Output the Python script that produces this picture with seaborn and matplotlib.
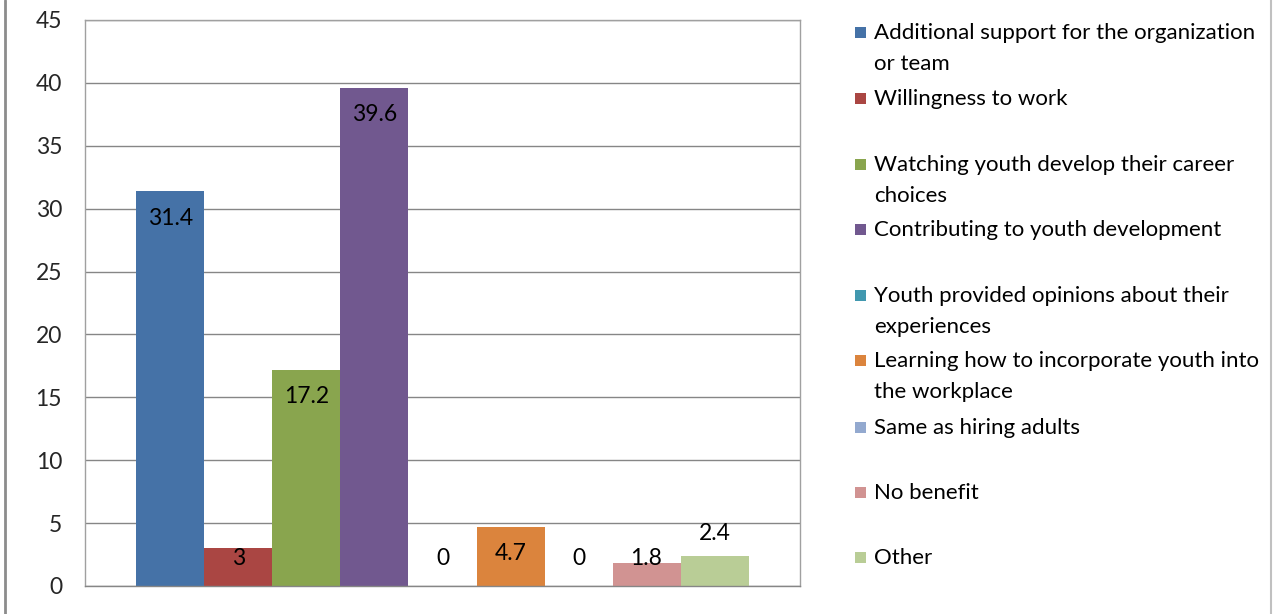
import matplotlib
matplotlib.use("Agg")
import matplotlib.pyplot as plt
import matplotlib.patches as mpatches
import pandas as pd
import seaborn as sns

W, H = 1273, 614

categories = [
    "Additional support for the organization\nor team",
    "Willingness to work",
    "Watching youth develop their career\nchoices",
    "Contributing to youth development",
    "Youth provided opinions about their\nexperiences",
    "Learning how to incorporate youth into\nthe workplace",
    "Same as hiring adults",
    "No benefit",
    "Other",
]
values = [31.4, 3, 17.2, 39.6, 0, 4.7, 0, 1.8, 2.4]
value_labels = ["31.4", "3", "17.2", "39.6", "0", "4.7", "0", "1.8", "2.4"]
colors = ["#4572A7", "#AA4643", "#89A54E", "#71588F", "#4198AF",
          "#DB843D", "#93A9CF", "#D19392", "#B9CD96"]
y_ticks = [0, 5, 10, 15, 20, 25, 30, 35, 40, 45]


def px(x, y):
    return x / W, 1 - y / H


def main() -> None:
    sns.set_style("white")
    plt.rcParams["font.family"] = ["Lato", "DejaVu Sans"]
    fs = 16
    tick_fs = 16.5

    df = pd.DataFrame({"group": [""] * len(values), "item": categories, "value": values})

    fig = plt.figure(figsize=(W / 100, H / 100), dpi=100)
    ax = fig.add_axes([85 / W, 1 - 586 / H, (800 - 85) / W, (586 - 20) / H])

    sns.barplot(data=df, x="group", y="value", hue="item", hue_order=categories,
                palette=colors, width=0.856, dodge=True, legend=False,
                saturation=1, ax=ax, edgecolor="none")

    ax.set_xlim(-0.5, 0.5)
    ax.set_ylim(0, 45)
    ax.set_yticks(y_ticks)
    ax.set_yticklabels([str(t) for t in y_ticks], fontsize=tick_fs)
    ax.tick_params(axis="y", length=0, pad=16.5)
    ax.set_xticks([])
    ax.set_xlabel("")
    ax.set_ylabel("")
    ax.set_axisbelow(True)
    ax.yaxis.grid(True, color="#868686", linewidth=1)
    for s in ax.spines.values():
        s.set_visible(True)
        s.set_color("#a0a0a0")
        s.set_linewidth(1)
    ax.spines["bottom"].set_color("#868686")

    # data labels
    bars = [p for p in ax.patches if p.get_width() > 0]
    bars = sorted(bars, key=lambda p: p.get_x())
    for bar, v, lab in zip(bars, values, value_labels):
        cx = bar.get_x() + bar.get_width() / 2
        if lab == "2.4":
            y = v + 1.8
        else:
            y = max(v - 2.15, 2.2)
        ax.text(cx, y, lab, ha="center", va="center", fontsize=fs + 0.5, color="#000000")

    # legend drawn as evenly spaced slots
    slot_y = [32, 98, 164, 229, 295, 360, 427, 492, 557]
    for lab, c, yy in zip(categories, colors, slot_y):
        fig.patches.append(mpatches.Rectangle(px(855, yy + 6), 11 / W, 11 / H,
                                              transform=fig.transFigure, facecolor=c,
                                              edgecolor="none"))
        fig.text(*px(874, yy - 9), lab, fontsize=fs, va="top", ha="left",
                 linespacing=1.7, color="#000000")

    # chart frame edges
    fig.add_artist(plt.Line2D([5 / W, 5 / W], [0, 1], transform=fig.transFigure,
                              color="#8c8c8c", linewidth=2))
    fig.add_artist(plt.Line2D([1271 / W, 1271 / W], [0, 1], transform=fig.transFigure,
                              color="#c0c0c0", linewidth=1.5))

    fig.savefig("out.png", dpi=100)


if __name__ == "__main__":
    main()
